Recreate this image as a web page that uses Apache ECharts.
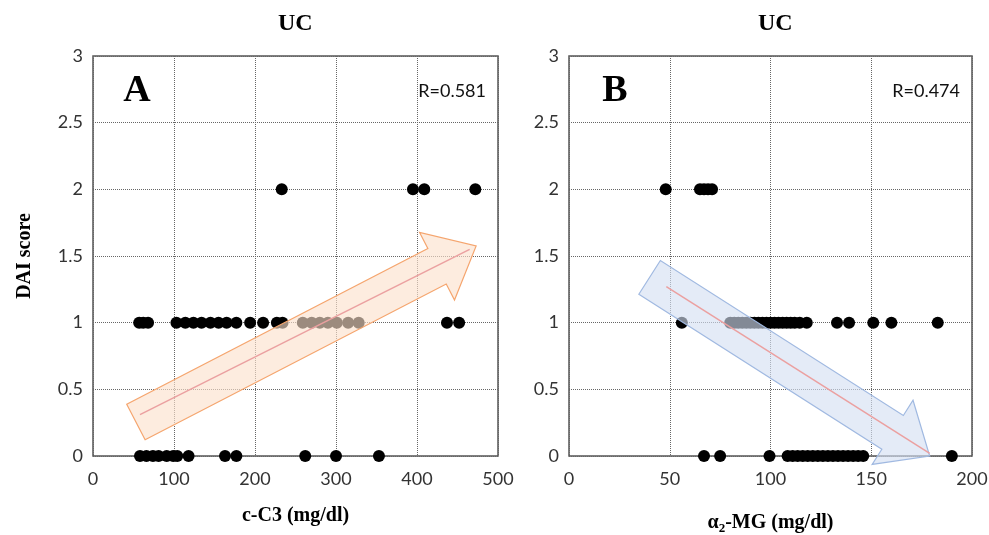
<!DOCTYPE html>
<html><head><meta charset="utf-8">
<script src="https://cdn.jsdelivr.net/npm/echarts@6/dist/echarts.min.js"></script>
<style>html,body{margin:0;padding:0;background:#fff}#c{width:989px;height:535px}</style>
</head><body><div id="c"></div>
<script>
// ---- data ----
const panelTitles = ['UC', 'UC'];
const panelLetters = ['A', 'B'];
const rLabels = ['R=0.581', 'R=0.474'];
const xNameA = 'c-C3 (mg/dl)';
const yName = 'DAI score';
const xTicksA = [0, 100, 200, 300, 400, 500];
const xTicksB = [0, 50, 100, 150, 200];
const yTicks = [0, 0.5, 1, 1.5, 2, 2.5, 3];

const aScore0 = [58, 66, 74, 81, 91, 99, 104, 118, 163, 177, 262, 300, 353];
const aScore1 = [57, 62, 68, 103, 114, 124, 134, 145, 155, 165, 177, 194, 210, 227, 234, 259, 270, 280, 290, 301, 315, 328, 437, 452];
const aScore2 = [233, 395, 409, 472];

const bScore0 = [67, 75, 99.5, 108.5, 111, 113.5, 116, 118.5, 121, 123.5, 126, 128.5, 131, 133.5, 136, 138.5, 141, 143.5, 146, 190];
const bScore1 = [56, 80, 82, 84, 86, 88, 90, 92, 94, 96, 98, 100, 102, 104, 106, 108, 110, 112, 114.5, 118, 133, 139, 151, 160, 183];
const bScore2 = [48, 65, 67, 69, 71];

// trend arrows and lines: [xStart, yStart, xEnd, yEnd]
const arrowA = [53, 0.255, 473, 1.575];
const arrowB = [40, 1.34, 179, 0.0];
const lineA = [[58, 0.31], [465, 1.55]];
const lineB = [[48.3, 1.27], [179, 0.02]];

// ---- build ----
function pts(arr, y) { return arr.map(x => [x, y]); }
const ptsA = [].concat(pts(aScore0, 0), pts(aScore1, 1), pts(aScore2, 2));
const ptsB = [].concat(pts(bScore0, 0), pts(bScore1, 1), pts(bScore2, 2));

function arrowRender(fill, stroke) {
  return function (params, api) {
    const p1 = api.coord([api.value(0), api.value(1)]);
    const p2 = api.coord([api.value(2), api.value(3)]);
    const dx = p2[0] - p1[0], dy = p2[1] - p1[1];
    const L = Math.sqrt(dx * dx + dy * dy);
    const ux = dx / L, uy = dy / L;
    const nx = -uy, ny = ux;
    const sw = 20, hw = 38, hl = 44;
    const bx = p2[0] - ux * hl, by = p2[1] - uy * hl;
    const points = [
      [p1[0] + nx * sw, p1[1] + ny * sw],
      [bx + nx * sw, by + ny * sw],
      [bx + nx * hw, by + ny * hw],
      [p2[0], p2[1]],
      [bx - nx * hw, by - ny * hw],
      [bx - nx * sw, by - ny * sw],
      [p1[0] - nx * sw, p1[1] - ny * sw]
    ];
    return { type: 'polygon', shape: { points: points }, style: { fill: fill, stroke: stroke, lineWidth: 1.2 } };
  };
}

const labelFont = 'Lato';
const serif = 'Liberation Serif';
const tickColor = '#333';

function xAxis(idx, max, interval, name, gap) {
  return {
    type: 'value', gridIndex: idx, min: 0, max: max, interval: interval,
    name: name, nameLocation: 'middle', nameGap: gap,
    nameTextStyle: idx === 0 ? { fontFamily: serif, fontWeight: 'bold', fontSize: 20, color: '#000' } : undefined,
    axisLine: { show: false }, axisTick: { show: false },
    axisLabel: { fontFamily: labelFont, fontSize: 18, color: tickColor, margin: 14 },
    splitLine: { show: true, lineStyle: { type: 'dotted', color: '#666', width: 1 } }
  };
}
function yAxis(idx) {
  return {
    type: 'value', gridIndex: idx, min: 0, max: 3, interval: 0.5,
    name: idx === 0 ? yName : '', nameLocation: 'middle', nameGap: 58, nameRotate: 90,
    nameTextStyle: { fontFamily: serif, fontWeight: 'bold', fontSize: 20, color: '#000' },
    axisLine: { show: false }, axisTick: { show: false },
    axisLabel: { fontFamily: labelFont, fontSize: 18, color: tickColor, margin: 10 },
    splitLine: { show: true, lineStyle: { type: 'dotted', color: '#666', width: 1 } }
  };
}

const xB = xAxis(1, 200, 50, '{a|α}{s|2}{a|-MG (mg/dl)}', 54);
xB.nameTextStyle = {
  rich: {
    a: { fontFamily: serif, fontWeight: 'bold', fontSize: 20, color: '#000' },
    s: { fontFamily: serif, fontWeight: 'bold', fontSize: 13, color: '#000', verticalAlign: 'bottom', padding: [12, 0, 0, 0] }
  }
};

const chart = echarts.init(document.getElementById('c'));
chart.setOption({
  animation: false,
  backgroundColor: '#fff',
  grid: [
    { left: 93, top: 56, width: 405, height: 400, show: true, borderColor: '#555', borderWidth: 1.5, backgroundColor: 'transparent', outerBoundsMode: 'none', containLabel: false },
    { left: 569, top: 56, width: 403, height: 400, show: true, borderColor: '#555', borderWidth: 1.5, backgroundColor: 'transparent', outerBoundsMode: 'none', containLabel: false }
  ],
  xAxis: [xAxis(0, 500, 100, xNameA, 50), xB],
  yAxis: [yAxis(0), yAxis(1)],
  graphic: [
    { type: 'text', left: 298 - 20, top: 12, style: { text: panelTitles[0], font: 'bold 24px "Liberation Serif"', fill: '#000' } },
    { type: 'text', left: 778 - 20, top: 12, style: { text: panelTitles[1], font: 'bold 24px "Liberation Serif"', fill: '#000' } },
    { type: 'text', x: 137, y: 91, style: { text: panelLetters[0], font: 'bold 38px "Liberation Serif"', fill: '#000', align: 'center', verticalAlign: 'middle' } },
    { type: 'text', x: 615, y: 91, style: { text: panelLetters[1], font: 'bold 38px "Liberation Serif"', fill: '#000', align: 'center', verticalAlign: 'middle' } },
    { type: 'text', x: 486, y: 91, style: { text: rLabels[0], font: '18px Lato', fill: '#111', align: 'right', verticalAlign: 'middle' } },
    { type: 'text', x: 960, y: 91, style: { text: rLabels[1], font: '18px Lato', fill: '#111', align: 'right', verticalAlign: 'middle' } }
  ],
  series: [
    { type: 'scatter', xAxisIndex: 0, yAxisIndex: 0, data: ptsA, symbolSize: 12, itemStyle: { color: '#000', opacity: 1 }, z: 2 },
    { type: 'scatter', xAxisIndex: 1, yAxisIndex: 1, data: ptsB, symbolSize: 12, itemStyle: { color: '#000', opacity: 1 }, z: 2 },
    { type: 'custom', xAxisIndex: 0, yAxisIndex: 0, data: [arrowA], clip: false, z: 3,
      encode: { x: [0, 2], y: [1, 3] },
      renderItem: arrowRender('rgba(252,224,204,0.62)', 'rgb(245,165,110)') },
    { type: 'custom', xAxisIndex: 1, yAxisIndex: 1, data: [arrowB], clip: false, z: 3,
      encode: { x: [0, 2], y: [1, 3] },
      renderItem: arrowRender('rgba(212,222,242,0.62)', 'rgb(160,185,225)') },
    { type: 'line', xAxisIndex: 0, yAxisIndex: 0, data: lineA, symbol: 'none', lineStyle: { color: '#eba0a0', width: 1.5 }, z: 4 },
    { type: 'line', xAxisIndex: 1, yAxisIndex: 1, data: lineB, symbol: 'none', lineStyle: { color: '#eba0a0', width: 1.5 }, z: 4 }
  ]
});
</script>
</body></html>
